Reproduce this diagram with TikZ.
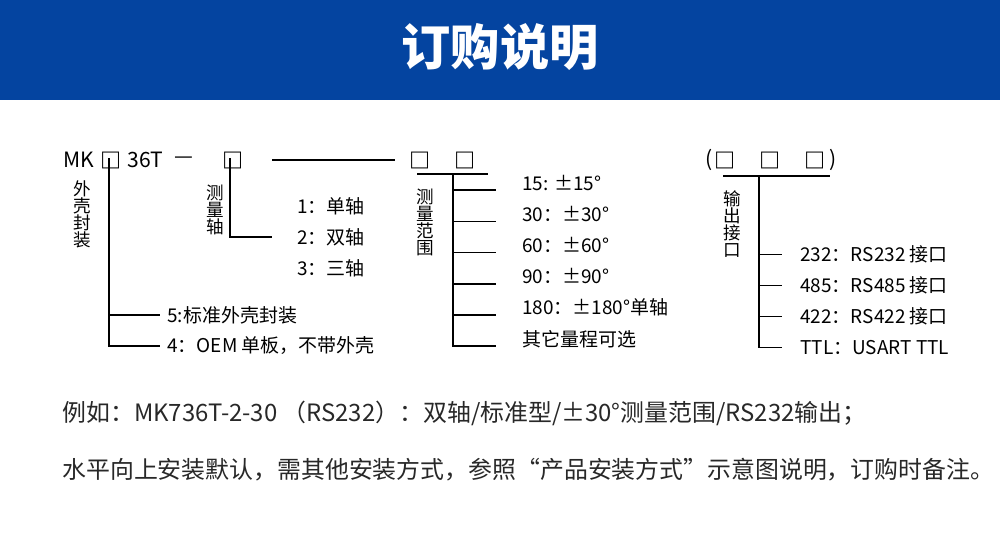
\documentclass[tikz,border=0pt]{standalone}
\usepackage{fontspec}
\setmainfont{Noto Sans CJK SC}
\usetikzlibrary{positioning,calc}
\definecolor{headBlue}{RGB}{4,68,160}
\definecolor{noteGray}{RGB}{40,40,40}

\begin{document}
\begin{tikzpicture}[x=0.02cm, y=-0.02cm,
  titletext/.style={font=\fontsize{28pt}{30pt}\selectfont\bfseries, text=white, inner sep=0pt},
  codetext/.style={font=\fontsize{12pt}{13pt}\selectfont, inner sep=0pt},
  codebox/.style={font=\fontsize{12pt}{13pt}\selectfont\bfseries, inner sep=0pt},
  optiontext/.style={font=\fontsize{10.8pt}{12pt}\selectfont, inner sep=0pt, anchor=west},
  sidetext/.style={font=\fontsize{10pt}{9.7pt}\selectfont, inner sep=0pt, align=center},
  notetext/.style={font=\fontsize{13.6pt}{15pt}\selectfont, text=noteGray, inner sep=0pt, anchor=west},
  treeline/.style={draw=black, line width=0.8pt},
]
\useasboundingbox (0,0) rectangle (1000,550);
\fill[white] (0,0) rectangle (1000,550);

% ===================================================================
% HEADER
% ===================================================================
\fill[headBlue] (0,0) rectangle (1000,100);
\node[titletext] (title) at (500,47) {订购说明};

% ===================================================================
% MODEL CODE ROW
% ===================================================================
\node[codetext, anchor=west] (mk) at (63,160) {MK};
\node[codebox] (pkgbox) at (111,160) {□};
\node[codetext, anchor=west] (model) at (127,160) {36T};
\node[codetext] (dashA) at (184,160) {—};
\node[codebox] (axisbox) at (233,160) {□};
\coordinate (dashL) at (272,160);
\coordinate (dashR) at (395,160);
\draw[treeline] (dashL) -- (dashR);
\node[codebox] (rangeboxA) at (420,160) {□};
\node[codebox] (rangeboxB) at (465,160) {□};
\node[codetext, anchor=west] (ifopen) at (705,160) {(};
\node[codebox] (ifboxA) at (725,160) {□};
\node[codebox] (ifboxB) at (770,160) {□};
\node[codebox] (ifboxC) at (815,160) {□};
\node[codetext, anchor=west] (ifclose) at (829,160) {)};

% ===================================================================
% PACKAGE (外壳封装)
% ===================================================================
\node[sidetext] (pkgside) at (82,214) {外\\壳\\封\\装};
\node[optiontext] (pkg5) at (167,315) {5:标准外壳封装};
\node[optiontext] (pkg4) at (167,346) {4：OEM 单板，不带外壳};

\draw[treeline] ([yshift=6]pkgbox.south -| 109,0) |- ([xshift=-4]pkg4.west);
\draw[treeline] (109,0 |- pkg5.west) -- ([xshift=-4]pkg5.west);

% ===================================================================
% AXES (测量轴)
% ===================================================================
\node[sidetext] (axisside) at (215,210) {测\\量\\轴};
\node[optiontext] (axis1) at (297,206) {1：单轴};
\node[optiontext] (axis2) at (297,237) {2：双轴};
\node[optiontext] (axis3) at (297,268) {3：三轴};

\draw[treeline] ([yshift=6]axisbox.south -| 230,0) |- ([xshift=-14]axis2.west);

% ===================================================================
% RANGE (测量范围)
% ===================================================================
\node[sidetext] (rangeside) at (425,222) {测\\量\\范\\围};
\foreach \i/\txt in {1/{15: ±15°}, 2/{30：±30°}, 3/{60：±60°}, 4/{90：±90°},
                     5/{180：±180°单轴}, 6/{其它量程可选}} {
  \node[optiontext, anchor=base west] (rg\i) at (522,{159+\i*31.2}) {\txt};
}

\coordinate (rgL) at (417,174);
\coordinate (rgR) at (488,174);
\coordinate (rgJ) at (453,174);
\draw[treeline] (rgL) -- (rgR);
\draw[treeline] (rgJ) |- ([xshift=-15]rg6.base west);
\foreach \i in {1,...,5} {
  \draw[treeline] (rgJ |- rg\i.base west) -- ([xshift=-15]rg\i.base west);
}

% ===================================================================
% OUTPUT INTERFACE (输出接口)
% ===================================================================
\node[sidetext] (ifside) at (732,224) {输\\出\\接\\口};
\foreach \i/\txt in {1/{232：RS232 接口}, 2/{485：RS485 接口}, 3/{422：RS422 接口}, 4/{TTL：USART TTL}} {
  \node[optiontext] (if\i) at (800,{223.5+\i*31}) {\txt};
}

\coordinate (ifL) at (723,176);
\coordinate (ifR) at (830,176);
\coordinate (ifJ) at (759,176);
\draw[treeline] (ifL) -- (ifR);
\draw[treeline] (ifJ) |- ([xshift=-10]if4.west);
\foreach \i in {1,2,3} {
  \draw[treeline] (ifJ |- if\i.west) -- ([xshift=-10]if\i.west);
}

% ===================================================================
% NOTES
% ===================================================================
\node[notetext] (example) at (62,413) {例如：MK736T-2-30 （RS232）：双轴/标准型/±30°测量范围/RS232输出；};
\node[notetext] (remark) at (62,470) {水平向上安装默认，需其他安装方式，参照“产品安装方式”示意图说明，订购时备注。};

\end{tikzpicture}
\end{document}
